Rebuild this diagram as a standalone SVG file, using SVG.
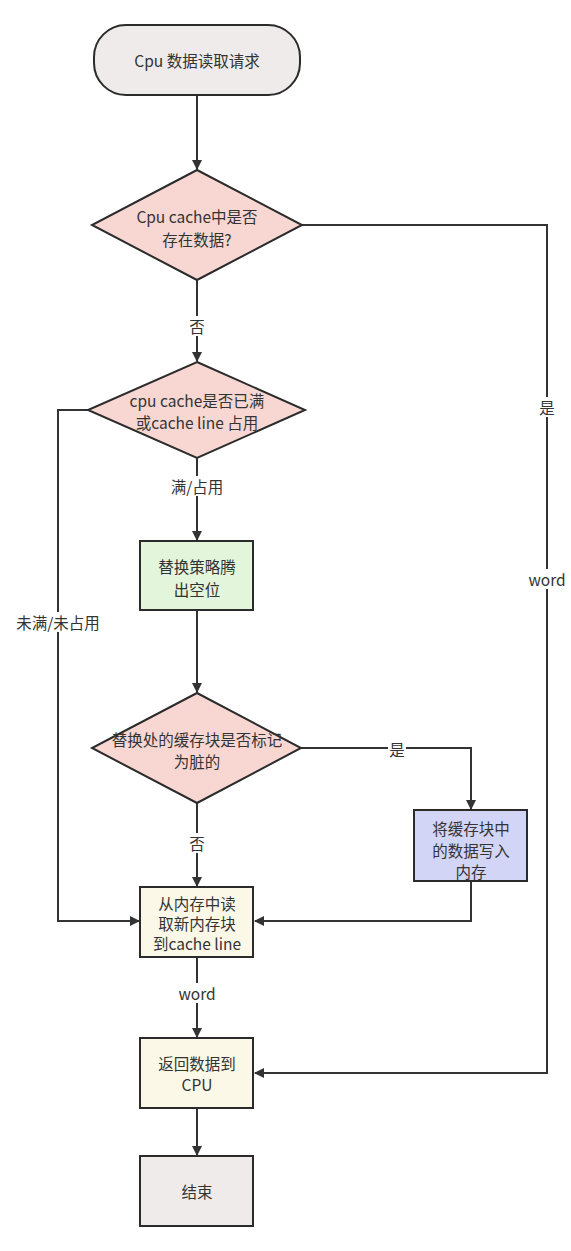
<svg xmlns="http://www.w3.org/2000/svg" width="571" height="1251" viewBox="0 0 571 1251">
<style>
.n{stroke:#2b2b2b;stroke-width:2}
.t{font-family:"Noto Sans CJK SC","Noto Sans",sans-serif;font-size:15.5px;fill:#333;text-anchor:middle;dominant-baseline:central}
.e{fill:none;stroke:#333;stroke-width:2}
.lb{fill:#fff}
</style>
<defs>
<marker id="ah" viewBox="0 0 10 10" refX="9" refY="5" markerWidth="10" markerHeight="10" markerUnits="userSpaceOnUse" orient="auto">
<path d="M0,0 L10,5 L0,10 Z" fill="#333"/>
</marker>
</defs>
<rect width="571" height="1251" fill="#fff"/>
<g id="edges">
<path class="e" d="M197,95 V169" marker-end="url(#ah)"/>
<path class="e" d="M197,280 V361" marker-end="url(#ah)"/>
<path class="e" d="M302,225 H547 V1073 H255" marker-end="url(#ah)"/>
<path class="e" d="M88,410 H58 V921 H139" marker-end="url(#ah)"/>
<path class="e" d="M197,458 V540" marker-end="url(#ah)"/>
<path class="e" d="M197,610 V692" marker-end="url(#ah)"/>
<path class="e" d="M301,748 H471 V809" marker-end="url(#ah)"/>
<path class="e" d="M471,881 V921 H255" marker-end="url(#ah)"/>
<path class="e" d="M197,803 V886" marker-end="url(#ah)"/>
<path class="e" d="M197,957 V1037" marker-end="url(#ah)"/>
<path class="e" d="M197,1108 V1155" marker-end="url(#ah)"/>
<rect class="lb" x="188" y="316" width="18" height="20"/>
<text class="t" x="197" y="326">否</text>
<rect class="lb" x="538" y="397" width="18" height="20"/>
<text class="t" x="547" y="407">是</text>
<rect class="lb" x="524" y="569" width="46" height="20"/>
<text class="t" x="547" y="579">word</text>
<rect class="lb" x="164" y="476" width="66" height="20"/>
<text class="t" x="197" y="486">满/占用</text>
<rect class="lb" x="12" y="612" width="92" height="20"/>
<text class="t" x="58" y="622">未满/未占用</text>
<rect class="lb" x="388" y="739" width="18" height="20"/>
<text class="t" x="397" y="749">是</text>
<rect class="lb" x="188" y="833" width="18" height="20"/>
<text class="t" x="197" y="843">否</text>
<rect class="lb" x="174" y="983" width="46" height="20"/>
<text class="t" x="197" y="993">word</text>
</g>
<g id="start">
<rect class="n" x="94" y="25" width="206" height="70" rx="32" ry="32" fill="#eeebea"/>
<text class="t" x="197" y="60">Cpu 数据读取请求</text>
</g>
<g id="d1">
<polygon class="n" points="197,170 302,225 197,280 92,225" fill="#f8d7d3"/>
<text class="t" x="197" y="216">Cpu cache中是否</text>
<text class="t" x="197" y="239">存在数据?</text>
</g>
<g id="d2">
<polygon class="n" points="197,362 305,410 197,458 88,410" fill="#f8d7d3"/>
<text class="t" x="197" y="400">cpu cache是否已满</text>
<text class="t" x="197" y="422">或cache line 占用</text>
</g>
<g id="replace">
<rect class="n" x="140" y="541" width="113" height="69" fill="#e3f5da"/>
<text class="t" x="197" y="566">替换策略腾</text>
<text class="t" x="197" y="589">出空位</text>
</g>
<g id="d3">
<polygon class="n" points="197,693 301,748 197,803 92,748" fill="#f8d7d3"/>
<text class="t" x="197" y="739">替换处的缓存块是否标记</text>
<text class="t" x="197" y="761">为脏的</text>
</g>
<g id="writeback">
<rect class="n" x="414" y="810" width="113" height="71" fill="#d3d5f6"/>
<text class="t" x="471" y="828">将缓存块中</text>
<text class="t" x="471" y="850">的数据写入</text>
<text class="t" x="471" y="871">内存</text>
</g>
<g id="readmem">
<rect class="n" x="140" y="887" width="113" height="70" fill="#fbf8e8"/>
<text class="t" x="197" y="903">从内存中读</text>
<text class="t" x="197" y="923">取新内存块</text>
<text class="t" x="197" y="943">到cache line</text>
</g>
<g id="return">
<rect class="n" x="140" y="1038" width="113" height="70" fill="#fbf8e8"/>
<text class="t" x="197" y="1063">返回数据到</text>
<text class="t" x="197" y="1084">CPU</text>
</g>
<g id="end">
<rect class="n" x="140" y="1156" width="113" height="70" fill="#eeebea"/>
<text class="t" x="197" y="1191">结束</text>
</g>
</svg>
